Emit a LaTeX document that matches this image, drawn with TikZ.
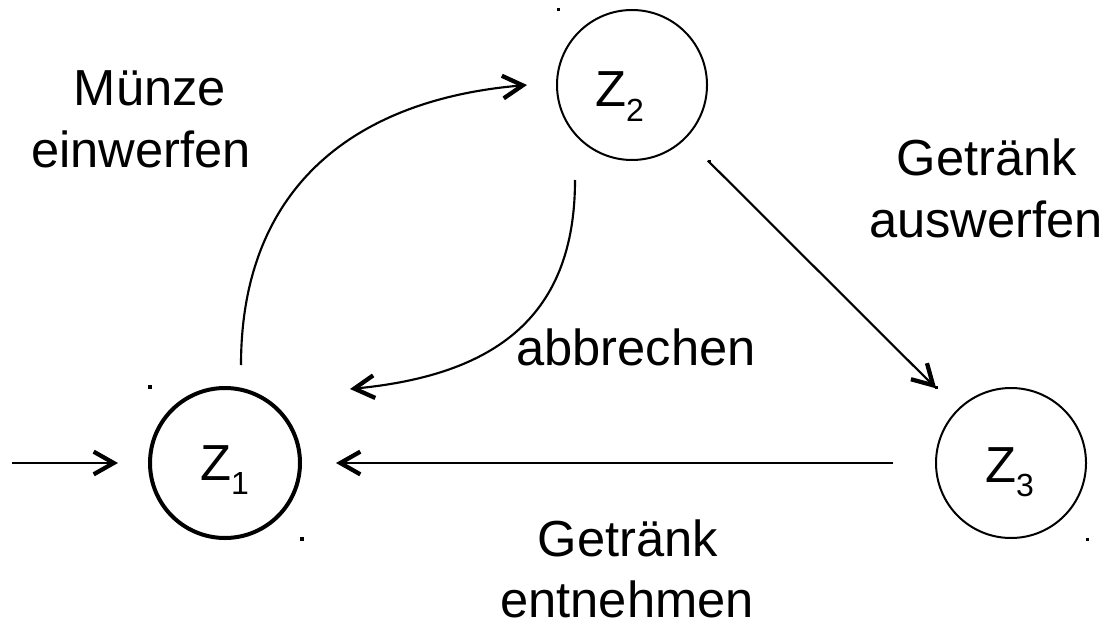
\documentclass[tikz,border=0pt]{standalone}
\usepackage{fontspec}
\setmainfont{Liberation Sans}
\usetikzlibrary{arrows.meta,calc}
% subscript of a state name
\newcommand{\zsub}[1]{\raisebox{-11pt}{\fontsize{24}{24}\selectfont #1}}

\begin{document}
\begin{tikzpicture}[x=0.75pt,y=-0.75pt,
  state/.style={circle,draw,line width=1.5pt,minimum size=112.5pt,inner sep=0pt,outer sep=0pt},
  startstate/.style={state,line width=3pt},
  statename/.style={anchor=base west,inner sep=0pt,font=\fontsize{38}{38}\selectfont},
  lbl/.style={anchor=base,inner sep=0pt,font=\fontsize{38}{38}\selectfont},
  arr/.style={line width=1.6pt,-{Straight Barb[length=15pt,width=17pt,line width=3.2pt]}},
  handle/.style={fill=black}]
\useasboundingbox (0,0) rectangle (1119,627);

% states
\node[startstate] (z1) at (225,463) {};
\node[state] (z2) at (632,85) {};
\node[state] (z3) at (1011,463) {};

\node[statename] (z1t) at ($(z1)+(-25,17)$) {Z\zsub{1}};
\node[statename] (z2t) at ($(z2)+(-37,22)$) {Z\zsub{2}};
\node[statename] (z3t) at ($(z3)+(-26,19)$) {Z\zsub{3}};

% corner handles
\fill[handle] ($(z1)+(-77,-78)$) rectangle +(4,4);
\fill[handle] ($(z1)+(75,74)$) rectangle +(4,4);
\fill[handle] ($(z2)+(-75,-77)$) rectangle +(3,3);
\fill[handle] ($(z2)+(76,75)$) rectangle +(3,3);
\fill[handle] ($(z3)+(-76,-77)$) rectangle +(3,3);
\fill[handle] ($(z3)+(75,75)$) rectangle +(3,3);

% transitions
\coordinate (init) at (12,463);
\draw[arr,shorten >=24pt] (init) -- (z1);

\draw[arr] ($(z1)+(16,-98)$) .. controls ($(z1)+(16,-272)$) and ($(z2)+(-282,15)$) .. ($(z2)+(-105,0)$);

\draw[arr] ($(z2)+(-57,95)$) .. controls ($(z2)+(-57,231)$) and ($(z1)+(271,-88)$) .. ($(z1)+(125,-74)$);

\draw[arr,shorten <=24pt,shorten >=23pt] (z2) -- (z3);

\draw[arr,shorten <=32pt,shorten >=27pt] (z3) -- (z1);

% transition labels
\node[lbl] (m1) at (150,106) {Münze};
\node[lbl] (m2) at (141,168) {einwerfen};
\node[lbl] (a1) at (987,176) {Getränk};
\node[lbl] (a2) at (986,238) {auswerfen};
\node[lbl] (b1) at (636,365) {abbrechen};
\node[lbl] (e1) at (628,556) {Getränk};
\node[lbl] (e2) at (627,617) {entnehmen};
\end{tikzpicture}
\end{document}
